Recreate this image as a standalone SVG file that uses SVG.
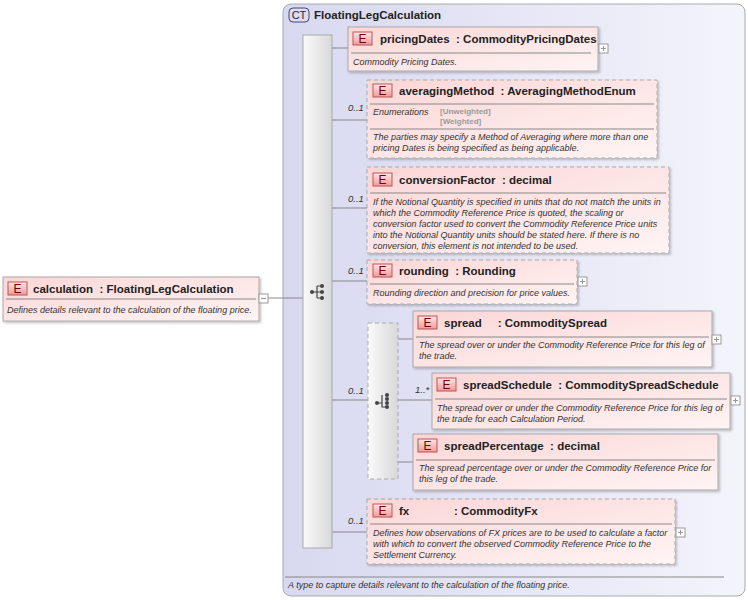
<svg xmlns="http://www.w3.org/2000/svg" width="748" height="600" viewBox="0 0 748 600">
<defs>
<linearGradient id="ng" x1="0" y1="0" x2="1" y2="1"><stop offset="0" stop-color="#fbd6d6"/><stop offset="1" stop-color="#fff4f4"/></linearGradient>
<linearGradient id="bg" x1="0" y1="0" x2="1" y2="0"><stop offset="0" stop-color="#d8d8f0"/><stop offset="1" stop-color="#f4f4fc"/></linearGradient>
<linearGradient id="bar" x1="0" y1="0" x2="1" y2="0"><stop offset="0" stop-color="#fafafa"/><stop offset="1" stop-color="#d8d8d8"/></linearGradient>
<linearGradient id="eg" x1="0" y1="0" x2="0" y2="1"><stop offset="0" stop-color="#fde8e8"/><stop offset="1" stop-color="#f29898"/></linearGradient>
<filter id="sh" x="-5%" y="-5%" width="110%" height="120%"><feDropShadow dx="1.5" dy="1.5" stdDeviation="1" flood-color="#000" flood-opacity="0.25"/></filter>
<g id="seqicon"><circle cx="-6" cy="0" r="2" fill="#444"/><path d="M-6 0H-1M-1 -6V6M-1 -6H3M-1 0H3M-1 6H3" stroke="#444" stroke-width="1.2" fill="none"/><circle cx="4" cy="-6" r="2" fill="#444"/><circle cx="4" cy="0" r="2" fill="#444"/><circle cx="4" cy="6" r="2" fill="#444"/></g>
<g id="choiceicon"><circle cx="-6" cy="2" r="2" fill="#444"/><path d="M-6 2H-1M-1 -6V6H3" stroke="#444" stroke-width="1.2" fill="none"/><circle cx="4" cy="-6" r="2" fill="#444"/><circle cx="4" cy="-2" r="2" fill="#444"/><circle cx="4" cy="2" r="2" fill="#444"/><circle cx="4" cy="6" r="2" fill="#444"/></g>
<g id="plus"><rect x="0" y="-4" width="9" height="9" fill="#fff" stroke="#999"/><path d="M2 0.5H7M4.5 -2V3" stroke="#999"/></g>
</defs>
<style>
.node{fill:url(#ng);stroke:#aaa;filter:url(#sh)}
.opt{stroke-dasharray:4 3;stroke:#aaa}
.sep{stroke:#888;stroke-width:1}
.ebox{fill:url(#eg);stroke:#b55}
.e{font:12px "Liberation Sans",sans-serif;fill:#700}
.t{font:bold 11.5px "Liberation Sans",sans-serif;fill:#222;white-space:pre}
.d{font:italic 9px "Liberation Sans",sans-serif;fill:#333}
.m{font:italic 9.5px "Liberation Sans",sans-serif;fill:#333}
.g{font:bold 8px "Liberation Sans",sans-serif;fill:#999}
.c{stroke:#888;fill:none}
</style>
<g id="ct">
<rect x="283" y="4" width="462" height="592" rx="8" fill="url(#bg)" stroke="#aaa"/>
<rect x="289" y="8" width="20" height="14" rx="4" fill="#dde" stroke="#447"/>
<text x="299" y="19" text-anchor="middle" style="font:11px 'Liberation Sans',sans-serif;fill:#224">CT</text>
<text x="314" y="19" class="t">FloatingLegCalculation</text>
<line x1="285" y1="577" x2="724" y2="577" class="sep"/>
<text x="288" y="588" class="d">A type to capture details relevant to the calculation of the floating price.</text>
</g>
<g id="connectors">
<path class="c" d="M265 298H303M332 48H348M332 120H367M332 208H367M332 281H367M332 400H368M332 532H367M398 339H413M398 400H432M398 462H413"/>
</g>
<g id="seq"><rect x="303" y="35" width="29" height="513" fill="url(#bar)" stroke="#aaa"/><use href="#seqicon" x="318" y="292"/></g>
<g id="calculation">
<rect x="3" y="277" width="256" height="44" class="node"/>
<rect x="8" y="282" width="19" height="13" class="ebox"/><text x="17.5" y="293" text-anchor="middle" class="e">E</text>
<text x="33" y="293" class="t" xml:space="preserve">calculation  : FloatingLegCalculation</text>
<line x1="6" y1="299" x2="256" y2="299" class="sep"/>
<text x="7" y="313" class="d">Defines details relevant to the calculation of the floating price.</text>
<rect x="259" y="294" width="9" height="9" fill="#fff" stroke="#999"/><path d="M261 298.5H266" stroke="#999"/>
</g>
<g id="pricingDates">
<rect x="348" y="27" width="250" height="44" class="node"/>
<rect x="353" y="32" width="19" height="13" class="ebox"/><text x="362.5" y="43" text-anchor="middle" class="e">E</text>
<text x="380" y="43" class="t" xml:space="preserve">pricingDates  : CommodityPricingDates</text>
<line x1="351" y1="53" x2="591" y2="53" class="sep"/>
<text x="353" y="65" class="d">Commodity Pricing Dates.</text>
<use href="#plus" x="599" y="48"/>
</g>
<g id="averagingMethod">
<text x="348" y="111" class="m">0..1</text>
<rect x="367" y="80" width="290" height="78" class="node opt"/>
<rect x="373" y="84" width="19" height="13" class="ebox"/><text x="382.5" y="95" text-anchor="middle" class="e">E</text>
<text x="399" y="95" class="t" xml:space="preserve">averagingMethod  : AveragingMethodEnum</text>
<line x1="370" y1="104" x2="654" y2="104" class="sep"/>
<text x="373" y="115" class="d">Enumerations</text>
<text x="440" y="114" class="g">[Unweighted]</text>
<text x="440" y="124" class="g">[Weighted]</text>
<line x1="370" y1="129" x2="654" y2="129" class="sep"/>
<text x="373" y="140" class="d">The parties may specify a Method of Averaging where more than one</text>
<text x="373" y="151" class="d">pricing Dates is being specified as being applicable.</text>
</g>
<g id="conversionFactor">
<text x="348" y="202" class="m">0..1</text>
<rect x="367" y="167" width="302" height="86" class="node opt"/>
<rect x="373" y="173" width="19" height="13" class="ebox"/><text x="382.5" y="184" text-anchor="middle" class="e">E</text>
<text x="399" y="184" class="t" xml:space="preserve">conversionFactor  : decimal</text>
<line x1="370" y1="193" x2="666" y2="193" class="sep"/>
<text x="373" y="205" class="d">If the Notional Quantity is specified in units that do not match the units in</text>
<text x="373" y="216" class="d">which the Commodity Reference Price is quoted, the scaling or</text>
<text x="373" y="227" class="d">conversion factor used to convert the Commodity Reference Price units</text>
<text x="373" y="238" class="d">into the Notional Quantity units should be stated here. If there is no</text>
<text x="373" y="249" class="d">conversion, this element is not intended to be used.</text>
</g>
<g id="rounding">
<text x="348" y="274" class="m">0..1</text>
<rect x="367" y="260" width="210" height="44" class="node opt"/>
<rect x="373" y="264" width="19" height="13" class="ebox"/><text x="382.5" y="275" text-anchor="middle" class="e">E</text>
<text x="399" y="275" class="t" xml:space="preserve">rounding  : Rounding</text>
<line x1="370" y1="284" x2="574" y2="284" class="sep"/>
<text x="373" y="296" class="d">Rounding direction and precision for price values.</text>
<use href="#plus" x="578" y="281"/>
</g>
<g id="choice">
<text x="348" y="394" class="m">0..1</text>
<rect x="368" y="323" width="30" height="156" fill="url(#bar)" stroke="#aaa" stroke-dasharray="4 3"/>
<use href="#choiceicon" x="383" y="401"/>
</g>
<g id="spread">
<rect x="413" y="311" width="299" height="56" class="node"/>
<rect x="418" y="316" width="19" height="13" class="ebox"/><text x="427.5" y="327" text-anchor="middle" class="e">E</text>
<text x="444" y="327" class="t" xml:space="preserve">spread     : CommoditySpread</text>
<line x1="416" y1="337" x2="709" y2="337" class="sep"/>
<text x="419" y="348" class="d">The spread over or under the Commodity Reference Price for this leg of</text>
<text x="419" y="359" class="d">the trade.</text>
<use href="#plus" x="712" y="339"/>
</g>
<g id="spreadSchedule">
<text x="415" y="393" class="m">1..*</text>
<rect x="432" y="373" width="298" height="56" class="node"/>
<rect x="437" y="378" width="19" height="13" class="ebox"/><text x="446.5" y="389" text-anchor="middle" class="e">E</text>
<text x="463" y="389" class="t" xml:space="preserve">spreadSchedule  : CommoditySpreadSchedule</text>
<line x1="435" y1="399" x2="727" y2="399" class="sep"/>
<text x="437" y="411" class="d">The spread over or under the Commodity Reference Price for this leg of</text>
<text x="437" y="422" class="d">the trade for each Calculation Period.</text>
<use href="#plus" x="731" y="400"/>
</g>
<g id="spreadPercentage">
<rect x="413" y="434" width="305" height="56" class="node"/>
<rect x="418" y="439" width="19" height="13" class="ebox"/><text x="427.5" y="450" text-anchor="middle" class="e">E</text>
<text x="444" y="450" class="t" xml:space="preserve">spreadPercentage  : decimal</text>
<line x1="416" y1="460" x2="715" y2="460" class="sep"/>
<text x="419" y="471" class="d">The spread percentage over or under the Commodity Reference Price for</text>
<text x="419" y="482" class="d">this leg of the trade.</text>
</g>
<g id="fx">
<text x="348" y="524" class="m">0..1</text>
<rect x="367" y="499" width="308" height="65" class="node opt"/>
<rect x="373" y="504" width="19" height="13" class="ebox"/><text x="382.5" y="515" text-anchor="middle" class="e">E</text>
<text x="399" y="515" class="t" xml:space="preserve">fx              : CommodityFx</text>
<line x1="370" y1="524" x2="672" y2="524" class="sep"/>
<text x="373" y="536" class="d">Defines how observations of FX prices are to be used to calculate a factor</text>
<text x="373" y="547" class="d">with which to convert the observed Commodity Reference Price to the</text>
<text x="373" y="558" class="d">Settlement Currency.</text>
<use href="#plus" x="676" y="532"/>
</g>
</svg>
